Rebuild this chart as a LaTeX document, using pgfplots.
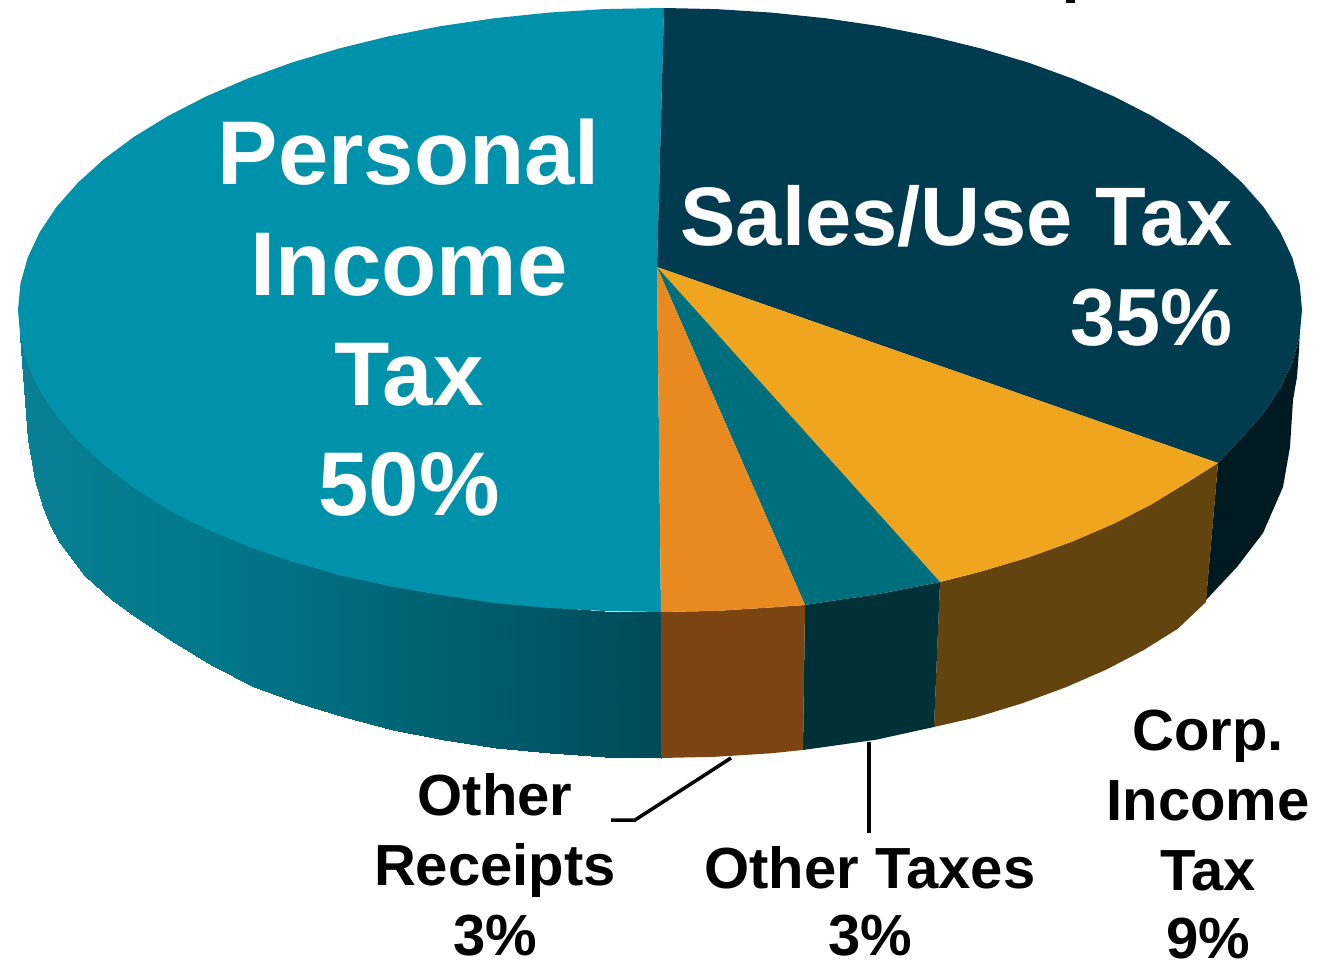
\documentclass[border=0pt]{standalone}
\usepackage{fontspec}
\setmainfont{Liberation Sans}
\usepackage{pgfplots}
\pgfplotsset{compat=1.18}
\definecolor{persTop}{HTML}{0092AB}
\definecolor{salesTop}{HTML}{003B50}
\definecolor{corpTop}{HTML}{F0A51E}
\definecolor{taxTop}{HTML}{006F7D}
\definecolor{recTop}{HTML}{E98A20}
\definecolor{salesSide}{HTML}{001A22}
\definecolor{corpSide}{HTML}{63430E}
\definecolor{taxSide}{HTML}{003138}
\definecolor{recSide}{HTML}{7A4512}
\begin{document}
\begin{tikzpicture}
\begin{axis}[
    at={(0pt,0pt)}, anchor=south west,
    scale only axis, width=1317pt, height=960pt,
    xmin=0, xmax=1317, ymin=0, ymax=960, y dir=reverse,
    hide axis, clip=true,
    colormap={sideteal}{rgb255(0cm)=(10,128,148); rgb255(1cm)=(0,118,137); rgb255(2cm)=(0,96,112); rgb255(3cm)=(0,74,88)},
    point meta min=18, point meta max=661,
    every node/.style={font=\bfseries, align=center, inner sep=0pt},
]
% side of the pie, left part
\addplot[surf, shader=interp, mesh/rows=2, point meta=x] table {
x y
18 310
20.4 336.3
27.7 362.4
39.9 388.2
56.7 413.3
78.2 437.6
104 461
134.1 483.2
168.2 504.1
206 523.5
247.3 541.3
291.7 557.4
339 571.5
388.7 583.7
440.4 593.8
493.9 601.7
548.5 607.4
604 610.9
661 612
28 440
35 480
43 507
51 527
60 543
84 575
112 600
137 618
175 643
213 666
253.8 687.1
297.5 703.2
344 717.4
392.9 729.6
443.9 739.7
496.4 747.7
550.3 753.4
604.9 756.8
661 758
};
% side, the other slices
\addplot[fill=salesSide, draw=none] coordinates {
(1218,463) (1206,600) (1237,567) (1263,533) (1283,487) (1290,447) (1293,400) (1297,377) (1299,350) (1299.6,336.3) (1292.3,362.4) (1280.1,388.2) (1263.3,413.3) (1241.8,437.6) (1218,463)};
\addplot[fill=corpSide, draw=none] coordinates {
(1218,463) (1206,602) (1177.7,628.8) (1144.1,649.8) (1106.9,669.3) (1066.2,687.1) (1022.5,703.2) (976,717.4) (934,727) (940,582) (981,571.5) (1028.3,557.4) (1072.7,541.3) (1114,523.5) (1151.8,504.1) (1185.9,483.2) (1218,463)};
\addplot[fill=taxSide, draw=none] coordinates {
(940,582) (934,727) (876.1,739.7) (803,750) (805,605) (826.1,601.7) (879.6,593.8) (940,582)};
\addplot[fill=recSide, draw=none] coordinates {
(805,605) (803,750) (769.7,753.4) (715,756.8) (661,758) (661,612) (716,610.9) (771.5,607.4) (805,605)};
% top faces
\addplot[fill=persTop, draw=none] coordinates {
(657,267) (661,612) (604,611) (548.5,608) (493.9,603) (440.4,595) (388.7,586) (339,575) (291.7,561.5) (247.3,546) (206,529) (168.2,510) (134.1,488) (104,465) (78.2,441) (56.7,416) (39.9,391) (27.7,365) (20.4,338) (18,310) (20.4,283.7) (27.7,257.6) (39.9,231.8) (56.7,206.7) (78.2,182.4) (104,159) (134.1,136.8) (168.2,115.9) (206,96.5) (247.3,78.7) (291.7,62.6) (339,48.5) (388.7,36.3) (440.4,26.2) (493.9,18.3) (548.5,12.6) (604,9.1) (664,8) (657,267)};
\addplot[fill=salesTop, draw=none] coordinates {
(657,267) (664,8) (716,9.1) (771.5,12.6) (826.1,18.3) (879.6,26.2) (931.3,36.3) (981,48.5) (1028.3,62.6) (1072.7,78.7) (1114,96.5) (1151.8,115.9) (1185.9,136.8) (1216,159) (1241.8,182.4) (1263.3,206.7) (1280.1,231.8) (1292.3,257.6) (1299.6,283.7) (1302,310) (1299.6,336.3) (1292.3,362.4) (1280.1,388.2) (1263.3,413.3) (1241.8,437.6) (1218,463) (657,267)};
\addplot[fill=corpTop, draw=none] coordinates {
(657,267) (1218,463) (1185.9,483.2) (1151.8,504.1) (1114,523.5) (1072.7,541.3) (1028.3,557.4) (981,571.5) (940,582) (657,267)};
\addplot[fill=taxTop, draw=none] coordinates {
(657,267) (940,582) (879.6,593.8) (826.1,601.7) (805,605) (657,267)};
\addplot[fill=recTop, draw=none] coordinates {
(657,267) (805,605) (771.5,607.4) (716,610.9) (661,612) (657,267)};
% leader lines
\addplot[black, line width=3.5pt] coordinates {(731,758) (635,820) (611,820)};
\addplot[black, line width=3.5pt] coordinates {(869,742) (869,833)};
% what is left of the cut off title
\addplot[black, line width=9pt] coordinates {(1070.5,0) (1070.5,3)};
% labels on the slices
\begin{scope}[every node/.append style={text=white, font=\fontsize{90.5}{90}\selectfont\bfseries, anchor=base}]
\node at (axis cs:409,185) {Personal};
\node at (axis cs:409,295) {Income};
\node at (axis cs:409,405) {Tax};
\node at (axis cs:409,515) {50\%};
\end{scope}
\begin{scope}[every node/.append style={text=white, font=\fontsize{83}{83}\selectfont\bfseries}]
\node[anchor=base west] at (axis cs:677,245) {Sales/Use Tax};
\node[anchor=base east] at (axis cs:1236,345) {\fontsize{81}{81}\selectfont 35\%};
\end{scope}
\begin{scope}[every node/.append style={text=black, font=\fontsize{58}{58}\selectfont\bfseries, anchor=base}]
\node at (axis cs:495,815) {Other};
\node at (axis cs:495,885) {Receipts};
\node at (axis cs:495,955) {3\%};
\node at (axis cs:870,888) {Other Taxes};
\node at (axis cs:870,955) {3\%};
\node at (axis cs:1208,750) {Corp.};
\node at (axis cs:1208,820) {Income};
\node at (axis cs:1208,890) {Tax};
\node at (axis cs:1208,958) {9\%};
\end{scope}
\end{axis}
\pgfresetboundingbox
\path[use as bounding box] (0pt,0pt) rectangle (1317pt,960pt);
\end{tikzpicture}
\end{document}
